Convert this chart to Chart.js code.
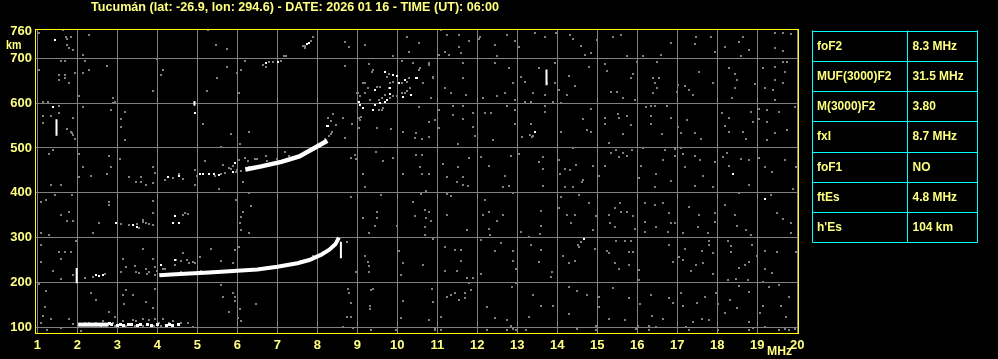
<!DOCTYPE html>
<html><head><meta charset="utf-8">
<script src="https://cdn.jsdelivr.net/npm/chart.js@4"></script>
<style>html,body{margin:0;padding:0;background:#000;overflow:hidden}</style>
</head><body>
<canvas id="c" width="998" height="359"></canvas>
<script>
// ---------- DATA ----------
const titleText = "Tucumán (lat: -26.9, lon: 294.6) - DATE: 2026 01 16 - TIME (UT): 06:00";
const xTicks = [1,2,3,4,5,6,7,8,9,10,11,12,13,14,15,16,17,18,19,20];
const yTicks = [100,200,300,400,500,600,700,760];
const tableLabels = ["foF2","MUF(3000)F2","M(3000)F2","fxI","foF1","ftEs","h'Es"];
const tableValues = ["8.3 MHz","31.5 MHz","3.80","8.7 MHz","NO","4.8 MHz","104 km"];

// sporadic E trace (freq MHz, virtual height km)
const esTrace = [[2.02,106],[2.78,106]];
const esDots = [[2.85,106],[3.0,105],[3.08,106],[3.15,105],[3.28,106],[3.35,107],[3.5,105],[3.57,106],[3.75,106],[3.85,105],[4.0,106],[4.22,105],[4.3,106],[4.37,105],[4.52,106],[2.8,108]];
// F layer first hop (o-trace) and x-trace
const f1Trace = [[4.05,216],[4.35,218],[4.8,220],[5.3,222],[6.0,226],[6.5,229],[7.0,235],[7.5,243],[7.8,250],[8.1,262],[8.3,273],[8.45,285],[8.54,300]];
const f1xTrace = [[8.59,291],[8.59,254]];
// F layer second hop
const f2Trace = [[6.2,452],[6.6,459],[7.1,469],[7.55,481],[7.85,496],[8.05,506],[8.25,516]];
// isolated vertical echoes
const bar1 = [[1.985,232],[1.985,198]];
const bar2 = [[1.48,564],[1.48,527]];
const bar3 = [[4.93,605],[4.93,594]];
const bar4 = [[13.73,675],[13.73,640]];
// strong isolated echoes
const whiteDots = [[1.43,741],[1.38,591],[10.47,655],[13.43,536],[18.38,443],[14.67,297],[19.18,386],[8.26,548],[8.23,549],[4.93,577],
 [2.47,216],[2.55,214],[2.63,216],[4.09,239],[4.43,250],
 [5.07,441],[5.15,442],[5.3,441],[5.42,442],[5.55,440],[5.9,447],[5.93,466],
 [2.97,332],[3.38,328],[3.5,324],[4.4,332],[4.43,348],[4.55,332],[4.26,435],[4.55,437],
 [6.72,690],[7.01,692],[7.73,731],[7.8,735],
 [9.69,670],[9.88,663],[9.98,661],[10.05,644],[9.82,633],[10.19,652],[10.48,655],[10.33,618],[10.13,613],[9.44,629],[9.82,620],[9.73,607],[9.57,600],[9.44,596],[9.03,603],[9.15,589],[9.38,585],[9.07,596],[9.69,603]];
// weak echoes / noise
const noise = [
 // upper right
 [11.10,762],[11.24,752],[11.54,752],[11.79,739],[12.05,744],[12.07,748],[12.43,730],[12.74,752],[12.94,739],[13.04,726],[13.45,757],[13.70,748],[13.97,756],[14.32,752],[14.39,742],[14.60,727],[14.70,707],[14.85,712],[14.99,741],[15.39,748],[15.59,752],[15.75,704],[16.14,704],[16.60,707],[16.85,733],[17.47,748],[17.43,732],[17.85,748],[17.95,715],[18.20,726],[18.54,737],[18.64,748],[18.60,704],[18.80,718],[19.43,757],[19.64,757],[19.45,724],[19.64,717],[19.85,754],[10.55,735],[11.18,715],[11.30,707],[11.04,707],[11.60,712],[12.49,704],[11.55,726],
 [10.54,674],[10.79,689],[10.89,655],[10.64,644],[11.20,633],[11.35,622],[11.64,689],[11.64,655],[11.72,618],[10.85,611],[12.14,611],[12.45,689],[12.49,617],[12.69,622],[12.79,679],[12.89,644],[12.94,607],[13.10,659],[13.18,648],[13.39,622],[13.55,679],[13.68,618],[13.93,689],[13.95,644],[14.04,629],[14.24,618],[14.29,660],[14.44,638],[14.79,680],[15.20,687],[15.24,672],[15.35,625],[15.49,625],[15.64,611],[15.85,655],[15.89,666],[15.93,607],[15.99,692],[16.39,655],[16.43,644],[16.54,655],[16.49,633],[16.40,622],[16.50,692],[16.99,625],[17.01,640],[17.19,638],[17.30,629],[17.39,618],[17.55,670],[17.89,644],[18.29,679],[18.43,666],[18.49,651],[18.45,633],[18.37,611],[18.95,643],[19.14,679],[19.20,633],[19.43,681],[19.45,651],[19.64,644],[19.40,629],[19.45,607],[19.70,669],[19.64,692],[19.74,692],[13.75,644],
 [10.55,592],[11.04,585],[10.95,562],[11.04,544],[10.80,559],[10.62,521],[10.79,524],[11.39,593],[11.40,573],[11.64,593],[11.64,564],[11.90,577],[11.90,547],[11.95,527],[11.51,509],[12.18,577],[12.33,577],[12.40,518],[12.75,593],[12.94,585],[12.94,553],[13.12,524],[13.20,603],[13.35,603],[13.34,553],[13.37,524],[13.70,593],[13.70,581],[13.89,603],[14.10,601],[14.10,536],[14.64,564],[14.74,540],[14.85,588],[14.85,536],[15.20,566],[15.20,553],[15.29,512],[15.51,576],[15.55,566],[15.74,571],[15.65,531],[15.85,551],[16.22,592],[16.35,593],[16.45,593],[16.35,571],[16.35,553],[16.62,531],[16.74,593],[16.85,566],[17.01,547],[17.10,533],[17.24,562],[17.45,533],[17.58,519],[18.12,577],[18.20,549],[18.29,566],[18.29,536],[18.64,536],[18.72,521],[18.85,581],[18.90,559],[19.04,588],[19.05,564],[19.24,585],[19.24,559],[19.24,518],[19.54,581],[19.45,533],[19.74,541],[19.93,592],[13.32,530],[13.4,527],
 [10.62,484],[10.57,458],[10.62,443],[10.79,443],[11.14,464],[11.24,436],[11.51,458],[11.64,436],[11.80,477],[12.10,479],[12.29,460],[12.70,437],[12.85,482],[13.04,486],[13.64,480],[13.54,469],[13.64,454],[14.04,473],[14.07,442],[14.18,452],[14.32,451],[14.39,501],[14.47,462],[14.64,428],[14.89,460],[15.04,437],[15.20,460],[15.35,489],[15.47,495],[15.55,479],[15.64,488],[15.74,482],[15.87,495],[16.14,499],[16.10,460],[16.04,432],[16.47,443],[16.64,473],[16.68,495],[16.85,427],[16.95,497],[16.95,482],[17.10,499],[17.14,486],[17.20,458],[17.43,482],[17.57,473],[17.65,437],[17.93,469],[18.14,480],[18.24,489],[18.30,460],[18.60,475],[18.79,473],[19.04,477],[19.20,457],[19.37,447],[19.70,473],[19.97,458],
 // lower right
 [10.6,397],[10.72,403],[10.68,362],[10.8,358],[10.72,343],[10.70,324],[10.85,338],[10.68,306],[10.89,296],[11.24,397],[11.35,393],[11.24,350],[11.74,317],[11.49,425],[11.64,417],[11.76,415],[12.14,350],[12.29,358],[12.49,338],[12.64,350],[12.29,319],[12.32,306],[12.18,383],[12.65,412],[12.8,415],[12.89,399],[13.1,313],[13.3,302],[13.6,360],[13.57,308],[13.6,325],[13.64,415],[14.04,365],[14.1,390],[14.24,350],[14.35,332],[14.45,350],[14.54,395],[14.8,378],[14.89,318],[14.97,348],[14.18,412],[14.4,412],[14.62,425],[15.3,350],[15.45,365],[15.6,358],[15.74,358],[15.89,348],[15.32,333],[15.45,324],[15.93,320],[15.57,378],[16.2,378],[16.43,373],[16.64,378],[16.8,356],[16.85,332],[16.95,333],[16.18,335],[16.2,313],[16.47,324],[16.76,313],[17.14,310],[17.3,369],[17.54,350],[17.51,324],[17.76,310],[17.89,412],[17.93,354],[17.95,335],[18.2,373],[18.43,350],[18.49,326],[18.72,318],[18.85,306],[19.35,395],[19.49,356],[19.64,341],[19.85,333],[19.85,311],[19.89,408],[17.43,415],[16.45,412],[18.54,399],[18.79,417],
 [10.89,296],[10.64,239],[11.2,280],[11.45,273],[11.6,273],[11.49,226],[11.6,249],[11.2,226],[11.74,211],[11.89,211],[12.1,294],[12.1,220],[12.45,271],[12.6,287],[12.9,271],[12.9,249],[12.97,229],[13.35,284],[13.6,273],[13.54,246],[13.87,224],[13.85,212],[14.14,258],[14.29,243],[14.43,249],[14.51,284],[14.6,291],[14.55,280],[14.95,274],[15.24,271],[15.29,265],[15.45,244],[15.55,229],[15.8,269],[15.89,269],[15.8,239],[16.04,228],[16.04,205],[15.47,293],[15.7,293],[15.85,293],[16.8,284],[16.89,246],[17.05,257],[17.14,250],[17.2,274],[17.35,226],[17.47,239],[17.62,271],[17.64,244],[17.79,293],[17.8,284],[17.89,266],[17.89,219],[18.26,293],[18.35,281],[18.35,267],[18.55,232],[18.68,239],[18.79,246],[18.87,284],[18.99,259],[19.2,271],[19.2,229],[19.37,222],[19.49,267],[19.97,267],[18.47,207],[18.26,205],[18.76,205],[19.14,202],
 [10.87,185],[10.9,157],[10.8,116],[10.93,98],[11.1,122],[11.24,168],[11.35,172],[11.43,176],[11.55,162],[11.7,176],[11.85,183],[11.8,199],[11.68,165],[12.24,145],[12.43,120],[12.74,116],[12.85,102],[12.97,199],[12.87,191],[13.3,122],[13.4,172],[13.6,148],[13.89,148],[14.3,190],[14.49,182],[14.29,130],[14.74,172],[14.97,102],[15.04,168],[15.04,146],[15.29,118],[15.39,187],[15.68,116],[15.79,165],[16.01,102],[16.07,153],[16.3,103],[16.37,125],[16.35,172],[16.64,118],[16.79,165],[16.89,155],[17.1,177],[17.14,147],[17.22,101],[17.49,155],[17.62,118],[17.7,168],[17.79,116],[17.97,177],[18.01,152],[18.2,133],[18.32,161],[18.49,142],[18.54,192],[18.79,179],[19.07,133],[19.15,147],[19.29,189],[19.54,194],[19.6,147],[19.72,122],[19.79,168],[19.2,101],[18.8,112],[18.9,98],[17.39,112],[16.47,101],
 [10.93,94],[12.24,94],[12.74,95],[12.9,97],[12.97,94],[13.22,95],[14.97,94],[15.97,96],[16.3,94],[17.3,95],[18.01,94],[18.8,95],[19.55,94],[19.68,96],[19.8,94],[19.93,96],[11.1,93],[14.5,96],
 // upper left
 [1.63,762],[1.72,748],[1.84,747],[1.73,730],[1.80,722],[1.88,719],[2.13,707],[5.26,762],[5.47,730],[5.73,720],[7.88,748],[8.68,737],[8.78,726],[9.20,730],[10.23,747],[10.28,713],[9.88,705],[7.22,704],[7.68,722],[7.19,704],[1.75,744],[1.05,756],[2.3,752],
 [1.05,674],[1.59,693],[1.70,693],[1.53,663],[1.68,663],[1.80,646],[1.95,667],[2.13,667],[2.2,693],[2.28,674],[2.73,683],[2.03,616],[2.9,611],[2.93,603],[3.88,626],[4.09,663],[4.13,674],[3.98,698],[5.23,626],[5.48,655],[5.73,681],[5.98,667],[6.09,674],[6.05,622],[6.2,693],[6.72,681],[8.68,683],[9.28,687],[9.38,674],[9.2,644],[9.26,633],[9.45,629],[9.01,622],[10.38,689],[10.12,693],[1.53,652],[1.68,655],
 [1.13,603],[1.26,603],[1.55,594],[1.13,571],[1.34,571],[1.13,556],[1.55,579],[1.88,566],[1.73,542],[1.9,529],[1.95,519],[2.13,591],[2.9,600],[2.84,585],[3.09,564],[3.09,546],[3.2,581],[3.2,518],[5.13,554],[5.84,531],[6.3,536],[6.07,509],[8.26,566],[8.34,561],[8.47,551],[8.65,566],[8.38,576],[8.37,536],[8.87,554],[9.09,570],[9.03,544],[8.7,522],[9.48,544],[9.84,542],[10.13,536],[10.47,533],[10.45,522],[5.59,503],[1.85,535],[1.87,533],
 [1.3,487],[1.38,496],[2.03,487],[2.13,457],[2.8,482],[2.84,457],[3.07,475],[2.03,436],[2.34,438],[2.73,442],[3.3,436],[3.59,436],[3.88,457],[3.93,445],[4.93,451],[5.18,470],[5.63,462],[5.8,455],[5.97,447],[6.26,470],[6.43,475],[6.72,481],[7.18,492],[8.84,477],[8.95,484],[8.97,475],[9.47,492],[9.65,470],[10.47,484],[9.13,442],[10.13,442],[9.88,477],
 [5.0,437],[5.6,443],[5.7,445],[6.0,451],[5.45,438],[5.85,453],[6.1,448],[5.9,460],[6.05,474],[6.2,478],[6.5,476],[6.75,472],[7.0,475],[7.3,482],[6.3,457],[6.9,465],[7.3,473],[7.7,489],[8.0,504],[8.2,521],[8.3,526],[8.35,531],[4.4,433],[4.65,430],[4.2,428],[4.55,441],
 [6.63,685],[6.8,692],[6.88,692],[7.09,695],[7.17,704],[7.63,727],[7.68,727],[7.85,738],
 [9.78,665],[9.73,659],[9.9,648],[10.03,646],[10.11,644],[10.23,648],[10.28,655],[10.32,633],[10.23,626],[10.19,622],[10.11,622],[9.98,615],[9.9,615],[9.82,611],[9.69,618],[9.61,611],[9.53,607],[9.65,589],[9.61,585],[9.53,585],[9.32,607],[9.19,622],[9.15,644],[9.07,615],[8.98,622],[9.03,566],[9.07,562],[10.53,674],[10.57,678],[10.78,685],[10.9,659],[9.36,670],[9.4,674],[9.78,633],[9.82,644],[9.57,637],[9.48,637],
 // lower left
 [1.34,417],[1.59,417],[3.47,425],[3.59,423],[3.72,417],[3.88,421],[4.95,417],[5.53,408],[6.13,423],[6.3,400],[1.87,395],[1.43,395],[1.09,380],[1.22,385],[2.78,380],[2.78,373],[3.88,382],[1.59,351],[1.78,358],[1.73,336],[1.88,336],[3.88,356],[5.97,385],[6.09,347],[6.13,358],[6.34,371],[6.07,333],[6.3,310],[6.09,317],[2.38,311],[1.97,293],[1.3,306],[1.09,310],[9.18,414],[8.84,391],[9.59,395],[10.38,380],[10.43,348],[9.13,343],[9.48,358],[9.48,343],[9.28,311],[9.45,325],[9.98,325],
 [3.55,321],[3.63,339],[3.72,333],[3.8,330],[3.88,328],[3.5,330],[4.64,350],[4.7,354],[4.76,352],[3.3,328],[3.1,331],[3.65,335],[2.55,332],
 [1.09,284],[1.09,246],[1.55,267],[1.7,267],[1.84,267],[1.59,252],[1.38,226],[1.59,207],[1.88,217],[2.18,209],[3.13,252],[3.22,235],[3.45,237],[3.63,274],[3.72,229],[3.9,252],[3.93,234],[3.47,224],[3.09,224],[3.8,224],[4.13,229],[4.63,265],[4.47,250],[4.8,244],[4.93,243],[5.07,256],[5.34,274],[5.59,249],[5.95,272],[6.05,280],[5.88,243],[5.51,224],[8.73,291],[9.2,259],[9.26,246],[9.28,224],[10.03,271],[10.09,217],[10.13,244],[9.3,237],[8.97,224],[1.05,197],[5.59,194],
 [4.6,247],[4.75,250],[4.9,246],[4.0,225],[4.2,230],[3.55,222],[3.75,219],[4.45,239],[5.4,226],[5.6,224],[6.6,233],[6.8,231],[7.2,240],[7.6,249],[7.9,259],[8.15,268],[8.4,284],[7.35,238],[5.1,225],[4.6,223],[3.95,217],[2.4,213],[2.7,218],
 [1.22,180],[1.18,146],[1.13,125],[1.34,118],[1.09,109],[1.8,118],[1.88,107],[2.34,177],[2.47,161],[2.8,135],[2.93,124],[3.13,172],[3.17,153],[3.38,172],[3.72,157],[3.88,142],[3.95,185],[3.22,183],[5.63,168],[5.88,176],[5.95,167],[5.95,159],[5.8,135],[6.01,120],[6.07,140],[6.09,113],[6.47,153],[8.76,185],[8.8,176],[8.84,155],[8.73,124],[8.84,124],[8.63,101],[8.88,98],[9.32,148],[9.32,140],[9.34,183],[9.4,185],[9.34,93],[10.13,159],[10.09,120],[9.97,94],[4.76,109],[4.88,101],[1.6,98],[2.1,92],[1.25,94],
 [2.3,109],[2.47,110],[2.63,113],[2.9,109],[2.95,104],[3.13,113],[3.22,104],[3.38,116],[3.47,113],[3.63,118],[3.8,116],[3.93,118],[4.13,118],[4.05,109],[4.3,110],[4.4,113],[4.51,107],[4.6,109],[3.45,103],[3.65,104],[3.92,104],[4.1,104],[2.2,110],[2.6,104]
];

// ---------- CHART ----------
const YELLOW_TXT = '#ffff80';
const FONT = 'Liberation Sans, Arial, sans-serif';
const pts = a => a.map(p => ({x: p[0], y: p[1]}));
const lineDs = (a, w) => ({data: pts(a), showLine: true, borderColor: '#ffffff', borderWidth: w, pointRadius: 0, borderCapStyle: 'butt'});

function dotImage(color, w, h) {
  const cv = document.createElement('canvas');
  cv.width = w; cv.height = h;
  const g = cv.getContext('2d');
  g.fillStyle = color; g.fillRect(0, 0, w, h);
  return cv;
}
const grayDot = dotImage('#808080', 2, 2);
const whiteDot = dotImage('#ffffff', 2, 2);
const whiteBlob = dotImage('#ffffff', 3, 3);

function drawText(ctx, txt, x, y, align, sx) {
  ctx.save();
  ctx.translate(x, y);
  ctx.scale(sx, 1);
  ctx.textAlign = align;
  ctx.textBaseline = 'middle';
  ctx.fillText(txt, 0, 0);
  ctx.restore();
}

const decor = {
  id: 'decor',
  beforeDraw(chart) {
    const c = chart.ctx;
    c.save(); c.fillStyle = '#000'; c.fillRect(0, 0, chart.width, chart.height); c.restore();
  },
  beforeDatasetsDraw(chart) { chart.ctx.imageSmoothingEnabled = false; },
  afterDatasetsDraw(chart) { chart.ctx.imageSmoothingEnabled = true; },
  afterDraw(chart) {
    const c = chart.ctx, a = chart.chartArea;
    c.save();
    // plot frame
    c.strokeStyle = '#ffff00'; c.lineWidth = 1;
    c.strokeRect(a.left - 0.5, a.top - 0.5, a.right - a.left + 1, a.bottom - a.top + 1);
    // title
    c.fillStyle = YELLOW_TXT;
    c.font = 'bold 13px ' + FONT;
    const tw = c.measureText(titleText).width;
    drawText(c, titleText, 91, 7, 'left', 408 / tw);
    // axis units
    drawText(c, 'km', 6, 45, 'left', 0.82);
    drawText(c, 'MHz', 767, 351, 'left', 0.94);
    // parameter table
    const tx0 = 812.5, tx1 = 907.5, tx2 = 977.5, ty0 = 30.5, rh = 30.25;
    c.strokeStyle = '#00ffff'; c.lineWidth = 1;
    c.beginPath();
    for (let i = 0; i <= tableLabels.length; i++) {
      const y = Math.round(ty0 + i * rh) + 0.5;
      c.moveTo(tx0, y); c.lineTo(tx2, y);
    }
    const yb = Math.round(ty0 + tableLabels.length * rh) + 0.5;
    [tx0, tx1, tx2].forEach(x => { c.moveTo(x, ty0); c.lineTo(x, yb); });
    c.stroke();
    c.fillStyle = YELLOW_TXT;
    c.font = 'bold 13px ' + FONT;
    tableLabels.forEach((t, i) => {
      const yc = ty0 + (i + 0.5) * rh + 0.5;
      drawText(c, t, 817, yc, 'left', 0.92);
      drawText(c, tableValues[i], 912.5, yc, 'left', 0.92);
    });
    c.restore();
  }
};

new Chart(document.getElementById('c'), {
  type: 'scatter',
  data: {
    datasets: [
      lineDs(f1Trace, 4),
      lineDs(f1xTrace, 2),
      lineDs(f2Trace, 4.5),
      lineDs(esTrace, 4),
      lineDs(bar1, 2), lineDs(bar2, 2), lineDs(bar3, 2), lineDs(bar4, 2),
      {data: pts(esDots), pointStyle: whiteBlob, pointRadius: 2, borderWidth: 0},
      {data: pts(whiteDots), pointStyle: whiteDot, pointRadius: 1.5, borderWidth: 0},
      {data: pts(noise), pointStyle: grayDot, pointRadius: 1.5, borderWidth: 0}
    ]
  },
  options: {
    responsive: false,
    animation: false,
    devicePixelRatio: 1,
    layout: {padding: {top: 30, right: 200, left: 0, bottom: 0}},
    plugins: {legend: {display: false}, tooltip: {enabled: false}, title: {display: false}},
    elements: {point: {hoverRadius: 0}},
    scales: {
      x: {
        type: 'linear', min: 0.9675, max: 20.0175,
        afterBuildTicks: s => { s.ticks = xTicks.map(v => ({value: v})); },
        afterFit: s => { s.height = 26; },
        grid: {color: '#808080', lineWidth: 1, drawTicks: false},
        border: {display: false},
        ticks: {color: YELLOW_TXT, font: {family: FONT, size: 13, weight: 'bold'}, padding: 5, maxRotation: 0, autoSkip: false,
          callback: v => String(v)}
      },
      y: {
        type: 'linear', min: 87.3, max: 763.1,
        afterBuildTicks: s => { s.ticks = yTicks.map(v => ({value: v})); },
        afterFit: s => { s.width = 36; },
        grid: {color: c => (c.tick && c.tick.value === 760) ? 'rgba(0,0,0,0)' : '#808080', lineWidth: 1, drawTicks: false},
        border: {display: false},
        ticks: {color: YELLOW_TXT, font: {family: FONT, size: 13, weight: 'bold'}, padding: 4, autoSkip: false,
          callback: v => String(v)}
      }
    }
  },
  plugins: [decor]
});
</script>
</body></html>
